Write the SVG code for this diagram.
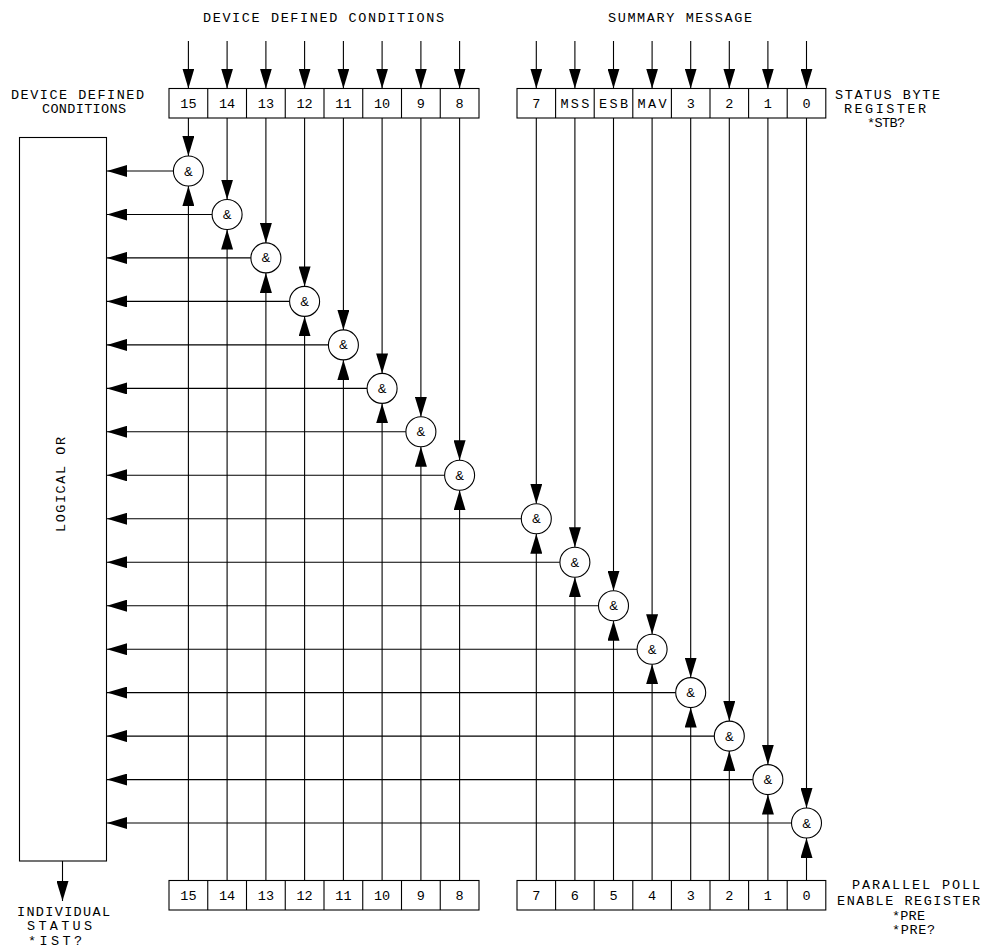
<svg xmlns="http://www.w3.org/2000/svg" width="983" height="950" viewBox="0 0 983 950">
<style>
.t{font-family:"Liberation Mono","DejaVu Sans Mono",monospace;font-size:13.5px;fill:#000}
.c{text-anchor:middle}
.amp{font-family:"Liberation Sans",Arial,sans-serif;font-size:13px;fill:#000;text-anchor:middle}
.ln{stroke:#000;stroke-width:1.1;fill:none}
.box{stroke:#000;stroke-width:1.1;fill:#fff}
.g{stroke:#000;stroke-width:1.1;fill:#fff}
</style>
<defs>
<marker id="ah" markerUnits="userSpaceOnUse" markerWidth="20" markerHeight="12" refX="20" refY="6" orient="auto">
<path d="M0,0 L20,6 L0,12 z" fill="#000"/>
</marker>
</defs>
<rect width="983" height="950" fill="#fff"/>

<g id="labels">
<text class="t" x="203" y="22" textLength="241" lengthAdjust="spacing">DEVICE DEFINED CONDITIONS</text>
<text class="t" x="608" y="22" textLength="144" lengthAdjust="spacing">SUMMARY MESSAGE</text>
<text class="t" x="11" y="99" textLength="133" lengthAdjust="spacing">DEVICE DEFINED</text>
<text class="t" x="42" y="113" textLength="84" lengthAdjust="spacing">CONDITIONS</text>
<text class="t" x="835" y="99" textLength="105" lengthAdjust="spacing">STATUS BYTE</text>
<text class="t" x="844" y="113" textLength="82" lengthAdjust="spacing">REGISTER</text>
<text class="t" x="867" y="127" textLength="38" lengthAdjust="spacing">*STB?</text>
<text class="t" x="852" y="889" textLength="128" lengthAdjust="spacing">PARALLEL POLL</text>
<text class="t" x="837" y="905" textLength="143" lengthAdjust="spacing">ENABLE REGISTER</text>
<text class="t" x="892" y="920" textLength="33" lengthAdjust="spacing">*PRE</text>
<text class="t" x="892" y="934" textLength="43" lengthAdjust="spacing">*PRE?</text>
<text class="t" x="17" y="916" textLength="93" lengthAdjust="spacing">INDIVIDUAL</text>
<text class="t" x="27" y="930" textLength="65" lengthAdjust="spacing">STATUS</text>
<text class="t" x="28" y="945" textLength="54" lengthAdjust="spacing">*IST?</text>
</g>

<g id="logical-or">
<rect class="box" x="19.5" y="137.5" width="87" height="723.5"/>
<text class="t" transform="translate(65,532) rotate(-90)" textLength="95" lengthAdjust="spacing">LOGICAL OR</text>
</g>

<g id="status-byte-register">
<rect class="box" x="169" y="88.5" width="310" height="29.5"/>
<path class="ln" d="M207.75,88.5V118M246.5,88.5V118M285.25,88.5V118M324,88.5V118M362.75,88.5V118M401.5,88.5V118M440.25,88.5V118"/>
<text class="t c" x="188.4" y="108">15</text>
<text class="t c" x="227.1" y="108">14</text>
<text class="t c" x="265.9" y="108">13</text>
<text class="t c" x="304.6" y="108">12</text>
<text class="t c" x="343.4" y="108">11</text>
<text class="t c" x="382.1" y="108">10</text>
<text class="t c" x="420.9" y="108">9</text>
<text class="t c" x="459.6" y="108">8</text>
<rect class="box" x="517" y="88.5" width="308.8" height="29.5"/>
<path class="ln" d="M555.6,88.5V118M594.2,88.5V118M632.8,88.5V118M671.4,88.5V118M710,88.5V118M748.6,88.5V118M787.2,88.5V118"/>
<text class="t c" x="536.3" y="108">7</text>
<text class="t c" x="574.9" y="108" textLength="29" lengthAdjust="spacing">MSS</text>
<text class="t c" x="613.5" y="108" textLength="29" lengthAdjust="spacing">ESB</text>
<text class="t c" x="652.1" y="108" textLength="29" lengthAdjust="spacing">MAV</text>
<text class="t c" x="690.7" y="108">3</text>
<text class="t c" x="729.3" y="108">2</text>
<text class="t c" x="767.9" y="108">1</text>
<text class="t c" x="806.5" y="108">0</text>
</g>

<g id="parallel-poll-register">
<rect class="box" x="169" y="880.5" width="310" height="29.5"/>
<path class="ln" d="M207.75,880.5V910M246.5,880.5V910M285.25,880.5V910M324,880.5V910M362.75,880.5V910M401.5,880.5V910M440.25,880.5V910"/>
<text class="t c" x="188.4" y="900">15</text>
<text class="t c" x="227.1" y="900">14</text>
<text class="t c" x="265.9" y="900">13</text>
<text class="t c" x="304.6" y="900">12</text>
<text class="t c" x="343.4" y="900">11</text>
<text class="t c" x="382.1" y="900">10</text>
<text class="t c" x="420.9" y="900">9</text>
<text class="t c" x="459.6" y="900">8</text>
<rect class="box" x="517" y="880.5" width="308.8" height="29.5"/>
<path class="ln" d="M555.6,880.5V910M594.2,880.5V910M632.8,880.5V910M671.4,880.5V910M710,880.5V910M748.6,880.5V910M787.2,880.5V910"/>
<text class="t c" x="536.3" y="900">7</text>
<text class="t c" x="574.9" y="900">6</text>
<text class="t c" x="613.5" y="900">5</text>
<text class="t c" x="652.1" y="900">4</text>
<text class="t c" x="690.7" y="900">3</text>
<text class="t c" x="729.3" y="900">2</text>
<text class="t c" x="767.9" y="900">1</text>
<text class="t c" x="806.5" y="900">0</text>
</g>

<g id="connectors" class="ln" marker-end="url(#ah)">
<path d="M188.4,41V88.5"/><path d="M227.1,41V88.5"/><path d="M265.9,41V88.5"/><path d="M304.6,41V88.5"/>
<path d="M343.4,41V88.5"/><path d="M382.1,41V88.5"/><path d="M420.9,41V88.5"/><path d="M459.6,41V88.5"/>
<path d="M536.3,41V88.5"/><path d="M574.9,41V88.5"/><path d="M613.5,41V88.5"/><path d="M652.1,41V88.5"/>
<path d="M690.7,41V88.5"/><path d="M729.3,41V88.5"/><path d="M767.9,41V88.5"/><path d="M806.5,41V88.5"/>
<path d="M188.4,118V156"/><path d="M227.1,118V199.5"/><path d="M265.9,118V242.9"/><path d="M304.6,118V286.4"/>
<path d="M343.4,118V329.9"/><path d="M382.1,118V373.4"/><path d="M420.9,118V416.8"/><path d="M459.6,118V460.3"/>
<path d="M536.3,118V503.8"/><path d="M574.9,118V547.2"/><path d="M613.5,118V590.7"/><path d="M652.1,118V634.2"/>
<path d="M690.7,118V677.6"/><path d="M729.3,118V721.1"/><path d="M767.9,118V764.6"/><path d="M806.5,118V808"/>
<path d="M188.4,880.5V186"/><path d="M227.1,880.5V229.5"/><path d="M265.9,880.5V272.9"/><path d="M304.6,880.5V316.4"/>
<path d="M343.4,880.5V359.9"/><path d="M382.1,880.5V403.4"/><path d="M420.9,880.5V446.8"/><path d="M459.6,880.5V490.3"/>
<path d="M536.3,880.5V533.8"/><path d="M574.9,880.5V577.2"/><path d="M613.5,880.5V620.7"/><path d="M652.1,880.5V664.2"/>
<path d="M690.7,880.5V707.6"/><path d="M729.3,880.5V751.1"/><path d="M767.9,880.5V794.6"/><path d="M806.5,880.5V838"/>
<path d="M173.4,171H107"/><path d="M212.1,214.5H107"/><path d="M250.9,257.9H107"/><path d="M289.6,301.4H107"/>
<path d="M328.4,344.9H107"/><path d="M367.1,388.4H107"/><path d="M405.9,431.8H107"/><path d="M444.6,475.3H107"/>
<path d="M521.3,518.8H107"/><path d="M559.9,562.2H107"/><path d="M598.5,605.7H107"/><path d="M637.1,649.2H107"/>
<path d="M675.7,692.6H107"/><path d="M714.3,736.1H107"/><path d="M752.9,779.6H107"/><path d="M791.5,823H107"/>
<path d="M62.5,861V901"/>
</g>

<g id="gate-15"><circle class="g" cx="188.4" cy="171" r="15"/><text class="amp" x="188.4" y="175.5">&amp;</text></g>
<g id="gate-14"><circle class="g" cx="227.1" cy="214.5" r="15"/><text class="amp" x="227.1" y="219">&amp;</text></g>
<g id="gate-13"><circle class="g" cx="265.9" cy="257.9" r="15"/><text class="amp" x="265.9" y="262.4">&amp;</text></g>
<g id="gate-12"><circle class="g" cx="304.6" cy="301.4" r="15"/><text class="amp" x="304.6" y="305.9">&amp;</text></g>
<g id="gate-11"><circle class="g" cx="343.4" cy="344.9" r="15"/><text class="amp" x="343.4" y="349.4">&amp;</text></g>
<g id="gate-10"><circle class="g" cx="382.1" cy="388.4" r="15"/><text class="amp" x="382.1" y="392.9">&amp;</text></g>
<g id="gate-9"><circle class="g" cx="420.9" cy="431.8" r="15"/><text class="amp" x="420.9" y="436.3">&amp;</text></g>
<g id="gate-8"><circle class="g" cx="459.6" cy="475.3" r="15"/><text class="amp" x="459.6" y="479.8">&amp;</text></g>
<g id="gate-7"><circle class="g" cx="536.3" cy="518.8" r="15"/><text class="amp" x="536.3" y="523.3">&amp;</text></g>
<g id="gate-6"><circle class="g" cx="574.9" cy="562.2" r="15"/><text class="amp" x="574.9" y="566.7">&amp;</text></g>
<g id="gate-5"><circle class="g" cx="613.5" cy="605.7" r="15"/><text class="amp" x="613.5" y="610.2">&amp;</text></g>
<g id="gate-4"><circle class="g" cx="652.1" cy="649.2" r="15"/><text class="amp" x="652.1" y="653.7">&amp;</text></g>
<g id="gate-3"><circle class="g" cx="690.7" cy="692.6" r="15"/><text class="amp" x="690.7" y="697.1">&amp;</text></g>
<g id="gate-2"><circle class="g" cx="729.3" cy="736.1" r="15"/><text class="amp" x="729.3" y="740.6">&amp;</text></g>
<g id="gate-1"><circle class="g" cx="767.9" cy="779.6" r="15"/><text class="amp" x="767.9" y="784.1">&amp;</text></g>
<g id="gate-0"><circle class="g" cx="806.5" cy="823" r="15"/><text class="amp" x="806.5" y="827.5">&amp;</text></g>
</svg>
